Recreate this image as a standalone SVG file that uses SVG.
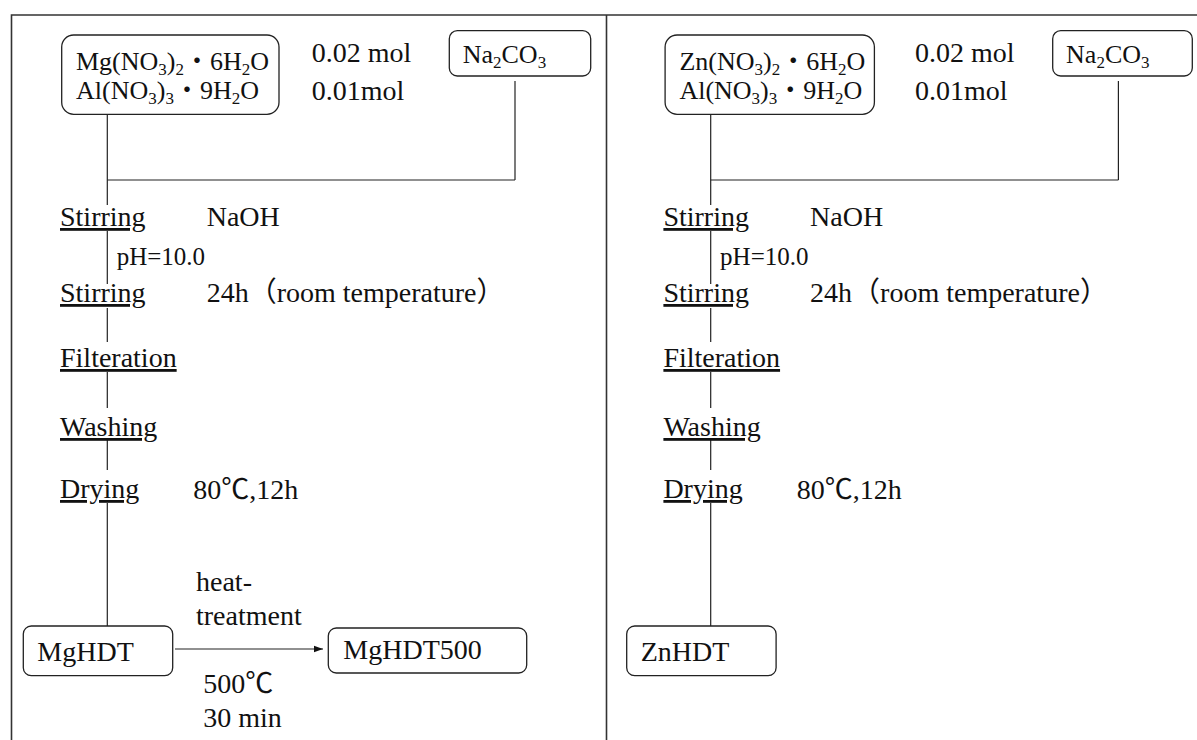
<svg xmlns="http://www.w3.org/2000/svg" width="1197" height="740" viewBox="0 0 1197 740">
<defs>
<style>
.t{font-family:'Liberation Serif','Noto Sans CJK JP',serif;fill:#111}
.b26{font-size:26px}
.l28{font-size:28px}
.s25{font-size:25px}
.sub{font-size:17px}
.u{text-decoration:underline}
.box{fill:#fff;stroke:#222;stroke-width:1.3}
.ln{stroke:#222;stroke-width:1.2;fill:none}
.frame{stroke:#333;stroke-width:1.6;fill:none}
</style>
<marker id="ah" markerWidth="10" markerHeight="8" refX="9" refY="4" orient="auto" markerUnits="userSpaceOnUse">
<path d="M0,0.8 L9,4 L0,7.2 Z" fill="#111"/>
</marker>
</defs>
<rect width="1197" height="740" fill="#fff"/>
<g id="frame" class="frame">
<path d="M11.5,740 V15 H1197"/>
<path d="M606.5,15 V740"/>
</g>

<!-- LEFT PANEL -->
<g id="left-panel">
<g id="connectors-left" class="ln">
<path d="M107.3,114.5 V205"/>
<path d="M107.3,180 H515"/>
<path d="M515,81 V180"/>
<path d="M107.3,231 V284"/>
<path d="M107.3,308 V342"/>
<path d="M107.3,372 V408"/>
<path d="M107.3,440 V470"/>
<path d="M107.3,503 V626"/>
<path d="M175,649 H323" marker-end="url(#ah)"/>
</g>
<g id="mg-reagents">
<rect class="box" x="61.7" y="35" width="217.3" height="79.3" rx="12"/>
<text class="t b26" x="76" y="70">Mg(NO<tspan class="sub" dy="5">3</tspan><tspan dy="-5">)</tspan><tspan class="sub" dy="5">2</tspan><tspan dy="-5">・6H</tspan><tspan class="sub" dy="5">2</tspan><tspan dy="-5">O</tspan></text>
<text class="t b26" x="76" y="99">Al(NO<tspan class="sub" dy="5">3</tspan><tspan dy="-5">)</tspan><tspan class="sub" dy="5">3</tspan><tspan dy="-5">・9H</tspan><tspan class="sub" dy="5">2</tspan><tspan dy="-5">O</tspan></text>
</g>
<g id="mg-amounts">
<text class="t l28" x="311.7" y="62">0.02 mol</text>
<text class="t l28" x="311.7" y="100">0.01mol</text>
</g>
<g id="na2co3-left">
<rect class="box" x="449.3" y="30.7" width="141.4" height="45.3" rx="8"/>
<text class="t b26" x="462.7" y="63.3">Na<tspan class="sub" dy="5">2</tspan><tspan dy="-5">CO</tspan><tspan class="sub" dy="5">3</tspan></text>
</g>
<g id="stirring1-left">
<text class="t l28 u" x="60" y="226">Stirring</text>
<text class="t l28" x="206.7" y="226">NaOH</text>
</g>
<g id="ph-left"><text class="t s25" x="116.7" y="265">pH=10.0</text></g>
<g id="stirring2-left">
<text class="t l28 u" x="60" y="302">Stirring</text>
<text class="t l28" x="206.7" y="302">24h（room temperature）</text>
</g>
<g id="filteration-left"><text class="t l28 u" x="60" y="367">Filteration</text></g>
<g id="washing-left"><text class="t l28 u" x="60" y="436">Washing</text></g>
<g id="drying-left">
<text class="t l28 u" x="60" y="498">Drying</text>
<text class="t l28" x="193.3" y="499">80℃,12h</text>
</g>
<g id="mghdt">
<rect class="box" x="23.3" y="626" width="149.4" height="49.7" rx="8"/>
<text class="t l28" x="37.3" y="661">MgHDT</text>
</g>
<g id="heat-label">
<text class="t l28" x="196" y="591">heat-</text>
<text class="t l28" x="196" y="625">treatment</text>
<text class="t l28" x="203.3" y="693">500℃</text>
<text class="t l28" x="203.3" y="727">30 min</text>
</g>
<g id="mghdt500">
<rect class="box" x="328.3" y="628" width="198.4" height="45" rx="8"/>
<text class="t l28" x="343.3" y="658.5">MgHDT500</text>
</g>
</g>

<!-- RIGHT PANEL -->
<g id="right-panel" transform="translate(603.4,0)">
<g id="connectors-right" class="ln">
<path d="M107.3,114.5 V205"/>
<path d="M107.3,180 H515"/>
<path d="M515,81 V180"/>
<path d="M107.3,231 V284"/>
<path d="M107.3,308 V342"/>
<path d="M107.3,372 V408"/>
<path d="M107.3,440 V470"/>
<path d="M107.3,503 V626"/>
</g>
<g id="zn-reagents">
<rect class="box" x="61.7" y="35" width="209.3" height="79.3" rx="12"/>
<text class="t b26" x="76" y="70">Zn(NO<tspan class="sub" dy="5">3</tspan><tspan dy="-5">)</tspan><tspan class="sub" dy="5">2</tspan><tspan dy="-5">・6H</tspan><tspan class="sub" dy="5">2</tspan><tspan dy="-5">O</tspan></text>
<text class="t b26" x="76" y="99">Al(NO<tspan class="sub" dy="5">3</tspan><tspan dy="-5">)</tspan><tspan class="sub" dy="5">3</tspan><tspan dy="-5">・9H</tspan><tspan class="sub" dy="5">2</tspan><tspan dy="-5">O</tspan></text>
</g>
<g id="zn-amounts">
<text class="t l28" x="311.7" y="62">0.02 mol</text>
<text class="t l28" x="311.7" y="100">0.01mol</text>
</g>
<g id="na2co3-right">
<rect class="box" x="449.3" y="30.7" width="139.6" height="45.3" rx="8"/>
<text class="t b26" x="462.7" y="63.3">Na<tspan class="sub" dy="5">2</tspan><tspan dy="-5">CO</tspan><tspan class="sub" dy="5">3</tspan></text>
</g>
<g id="stirring1-right">
<text class="t l28 u" x="60" y="226">Stirring</text>
<text class="t l28" x="206.7" y="226">NaOH</text>
</g>
<g id="ph-right"><text class="t s25" x="116.7" y="265">pH=10.0</text></g>
<g id="stirring2-right">
<text class="t l28 u" x="60" y="302">Stirring</text>
<text class="t l28" x="206.7" y="302">24h（room temperature）</text>
</g>
<g id="filteration-right"><text class="t l28 u" x="60" y="367">Filteration</text></g>
<g id="washing-right"><text class="t l28 u" x="60" y="436">Washing</text></g>
<g id="drying-right">
<text class="t l28 u" x="60" y="498">Drying</text>
<text class="t l28" x="193.3" y="499">80℃,12h</text>
</g>
<g id="znhdt">
<rect class="box" x="23.3" y="626" width="149.4" height="49.7" rx="8"/>
<text class="t l28" x="37.3" y="661">ZnHDT</text>
</g>
</g>
</svg>
